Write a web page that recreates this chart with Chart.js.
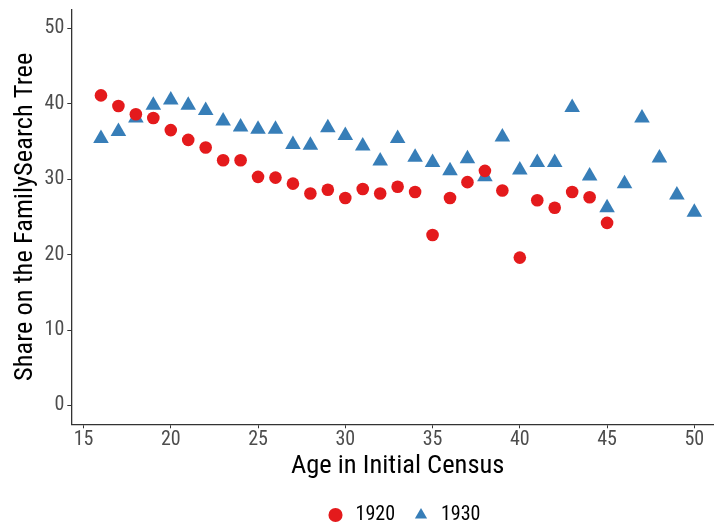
<!DOCTYPE html>
<html>
<head>
<meta charset="utf-8">
<script src="https://cdn.jsdelivr.net/npm/chart.js@4/dist/chart.umd.min.js"></script>
<style>
  html, body { margin: 0; padding: 0; background: #fff; overflow: hidden; }
  #wrap { width: 714px; height: 527px; overflow: hidden; }
</style>
</head>
<body>
<div id="wrap"><canvas id="chart" width="724" height="527"></canvas></div>
<script>
// data
var ages1920 = [16, 17, 18, 19, 20, 21, 22, 23, 24, 25, 26, 27, 28, 29, 30,
                31, 32, 33, 34, 35, 36, 37, 38, 39, 40, 41, 42, 43, 44, 45];
var share1920 = [41.1, 39.7, 38.6, 38.1, 36.5, 35.2, 34.2, 32.5, 32.5, 30.3, 30.2, 29.4, 28.1, 28.6, 27.5,
                 28.7, 28.1, 29.0, 28.3, 22.6, 27.5, 29.6, 31.1, 28.5, 19.6, 27.2, 26.2, 28.3, 27.6, 24.2];
var ages1930 = [16, 17, 18, 19, 20, 21, 22, 23, 24, 25, 26, 27, 28, 29, 30, 31, 32, 33,
                34, 35, 36, 37, 38, 39, 40, 41, 42, 43, 44, 45, 46, 47, 48, 49, 50];
var share1930 = [35.4, 36.3, 38.1, 39.8, 40.5, 39.8, 39.1, 37.7, 36.9, 36.6, 36.6, 34.6, 34.5, 36.8, 35.8, 34.4, 32.4, 35.4,
                 32.9, 32.2, 31.1, 32.7, 30.3, 35.6, 31.2, 32.2, 32.2, 39.5, 30.4, 26.2, 29.4, 38.1, 32.8, 27.9, 25.6];
var xTicks = [15, 20, 25, 30, 35, 40, 45, 50];
var yTicks = [0, 10, 20, 30, 40, 50];

var fontFamily = '"Roboto Condensed", "Liberation Sans Narrow", Roboto, sans-serif';

function toPoints(xs, ys) {
    return xs.map(function (x, i) { return { x: x, y: ys[i] }; });
}

// the original plot is cropped on the right, its legend sits right of centre
const legendShift = {
    id: 'legendShift',
    afterLayout(chart) {
        chart.legend.left += 41;
        chart.legend.right += 41;
    }
};

const config = {
    type: 'scatter',
    data: {
        datasets: [{
            label: '1920',
            data: toPoints(ages1920, share1920),
            pointStyle: 'circle',
            pointRadius: 6.3,
            pointHoverRadius: 6.3,
            backgroundColor: '#E41A1C',
            borderColor: '#E41A1C',
            borderWidth: 0,
        }, {
            label: '1930',
            data: toPoints(ages1930, share1930),
            pointStyle: 'triangle',
            pointRadius: 9,
            pointHoverRadius: 9,
            backgroundColor: '#377EB8',
            borderColor: '#377EB8',
            borderWidth: 0,
        }]
    },
    options: {
        responsive: false,
        animation: false,
        layout: { autoPadding: false, padding: { top: 9.4, right: 0, left: 0, bottom: -8 } },
        plugins: {
            tooltip: { enabled: false },
            legend: {
                position: 'bottom',
                labels: {
                    usePointStyle: true,
                    color: '#000',
                    font: { family: fontFamily, size: 20 },
                    padding: 16,
                    boxWidth: 20,
                    boxHeight: 10,
                }
            }
        },
        scales: {
            x: {
                type: 'linear',
                min: 14.3,
                max: 51.7,
                afterBuildTicks: function (scale) {
                    scale.ticks = xTicks.map(function (v) { return { value: v }; });
                },
                afterFit: function (scale) {
                    scale.height = 64.7;
                    scale.paddingLeft = 0;
                    scale.paddingRight = 0;
                },
                grid: {
                    drawOnChartArea: false,
                    drawTicks: true,
                    tickLength: 4,
                    tickColor: '#333333',
                },
                border: { display: true, color: '#333333', width: 1.3 },
                ticks: {
                    color: '#4D4D4D',
                    font: { family: fontFamily, size: 20 },
                    padding: 0,
                    maxRotation: 0,
                },
                title: {
                    display: true,
                    text: 'Age in Initial Census',
                    color: '#000',
                    font: { family: fontFamily, size: 26.5 },
                    padding: { top: 0, bottom: 7 },
                }
            },
            y: {
                min: -2.5,
                max: 52.5,
                afterBuildTicks: function (scale) {
                    scale.ticks = yTicks.map(function (v) { return { value: v }; });
                },
                afterFit: function (scale) {
                    scale.width = 71.3;
                    scale.paddingTop = 0;
                    scale.paddingBottom = 0;
                },
                grid: {
                    drawOnChartArea: false,
                    drawTicks: true,
                    tickLength: 4,
                    tickColor: '#333333',
                },
                border: { display: true, color: '#333333', width: 1.3 },
                ticks: {
                    color: '#4D4D4D',
                    font: { family: fontFamily, size: 20 },
                    padding: 3,
                },
                title: {
                    display: true,
                    text: 'Share on the FamilySearch Tree',
                    color: '#000',
                    font: { family: fontFamily, size: 26.5 },
                    padding: { top: 9, bottom: 0 },
                }
            }
        }
    },
    plugins: [legendShift]
};

const chart = new Chart(document.getElementById('chart'), config);
</script>
</body>
</html>
